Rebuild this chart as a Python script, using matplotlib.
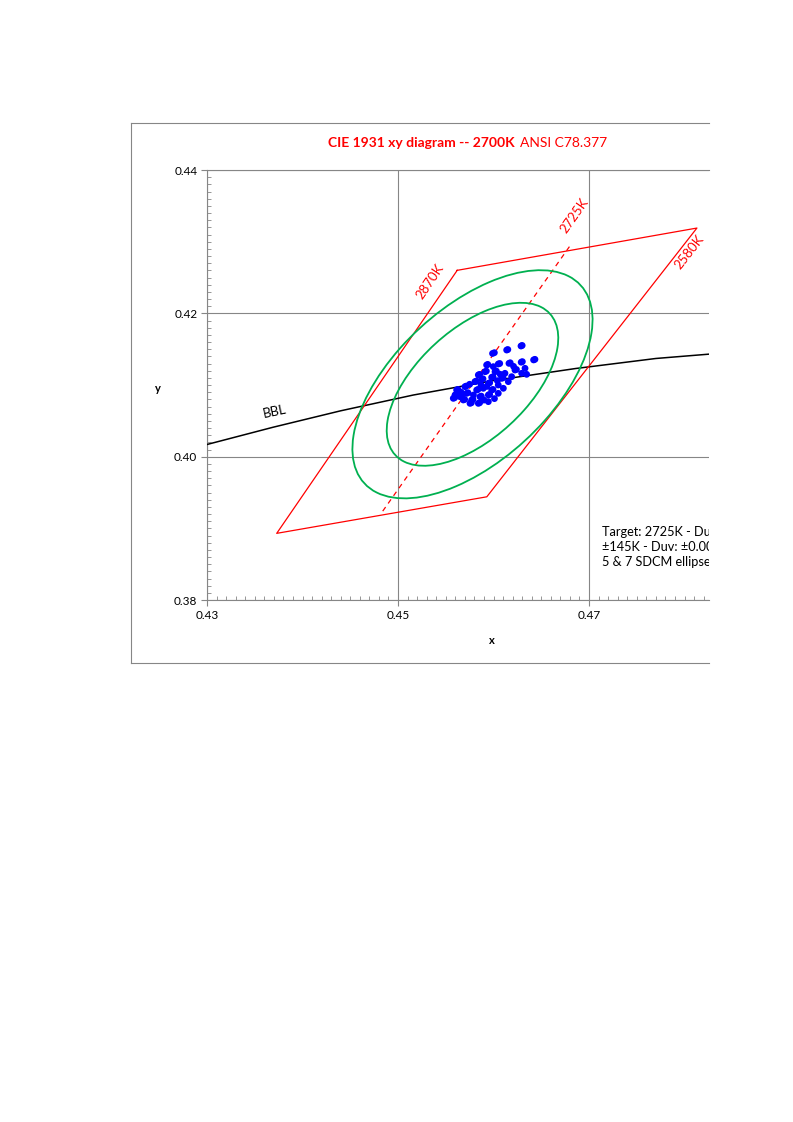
import matplotlib.pyplot as plt
from matplotlib.patches import Ellipse
from matplotlib.lines import Line2D
from matplotlib.ticker import MultipleLocator, FixedLocator

plt.rcParams['font.family'] = ['Lato', 'DejaVu Sans']

# ANSI C78.377 quadrangle for 2700K (corners, closed)
quad_x = [0.4562, 0.4813, 0.4593, 0.4373, 0.4562]
quad_y = [0.4260, 0.4319, 0.3944, 0.3893, 0.4260]

# 2725K center line
cct_x = [0.4484, 0.4680]
cct_y = [0.3924, 0.4294]

# black body locus (Planckian), 3300K .. 2400K
bbl_x = [0.4172, 0.4234, 0.4300, 0.4369, 0.4440, 0.4516, 0.4599, 0.4686, 0.4770, 0.4862]
bbl_y = [0.3966, 0.3990, 0.4017, 0.4041, 0.4064, 0.4086, 0.4106, 0.4123, 0.4137, 0.4147]

# SDCM ellipses: center, semi axes for 1 step, angle
ell_center = (0.4578, 0.4101)
ell_a = 0.00259
ell_b = 0.00130
ell_angle = 56.4
ell_steps = [5, 7]

# measured points
meas_x = [0.46288, 0.46300, 0.46138, 0.46150, 0.46009, 0.45990, 0.46434, 0.46420,
          0.46302, 0.46290, 0.46162, 0.46175, 0.46050, 0.46065, 0.45928, 0.45940,
          0.45998, 0.46330, 0.46225, 0.46240, 0.46120, 0.46016, 0.46030, 0.45911,
          0.45925, 0.45841, 0.45855, 0.46190, 0.46085, 0.46100, 0.45981, 0.45995,
          0.45876, 0.45890, 0.45806, 0.45820, 0.45946, 0.45960, 0.46050, 0.46155,
          0.45701, 0.45715, 0.45614, 0.45628, 0.45597, 0.45649, 0.45663, 0.45719,
          0.45733, 0.45824, 0.45838, 0.45893, 0.45981, 0.45995, 0.46103, 0.45684,
          0.45698, 0.45771, 0.45785, 0.45858, 0.45872, 0.45946, 0.45960, 0.46050,
          0.45754, 0.45768, 0.45841, 0.45855, 0.45946, 0.45579, 0.45593, 0.46295,
          0.46347, 0.45750, 0.45870, 0.45930, 0.46040, 0.45660, 0.45790, 0.46010,
          0.46070, 0.46210, 0.45900, 0.45620]
meas_y = [0.41544, 0.41552, 0.41488, 0.41495, 0.41451, 0.41440, 0.41358, 0.41350,
          0.41326, 0.41318, 0.41302, 0.41310, 0.41293, 0.41300, 0.41279, 0.41287,
          0.41256, 0.41233, 0.41209, 0.41217, 0.41163, 0.41186, 0.41194, 0.41186,
          0.41194, 0.41140, 0.41148, 0.41116, 0.41093, 0.41101, 0.41107, 0.41115,
          0.41079, 0.41087, 0.41047, 0.41055, 0.41023, 0.41031, 0.41000, 0.41047,
          0.40977, 0.40985, 0.40930, 0.40938, 0.40861, 0.40837, 0.40845, 0.40884,
          0.40892, 0.40930, 0.40938, 0.40954, 0.40930, 0.40938, 0.40954, 0.40791,
          0.40799, 0.40791, 0.40799, 0.40837, 0.40845, 0.40861, 0.40869, 0.40884,
          0.40744, 0.40752, 0.40744, 0.40752, 0.40768, 0.40814, 0.40822, 0.41163,
          0.41149, 0.41010, 0.41000, 0.40980, 0.41060, 0.40900, 0.40860, 0.40810,
          0.41150, 0.41260, 0.40790, 0.40880]

# labels on the quadrangle edges: text, x, y, rotation
cct_labels = [('2870K', 0.45335, 0.42451, 56),
              ('2725K', 0.46848, 0.43358, 55),
              ('2580K', 0.48047, 0.42856, 52)]

info_lines = ['Target: 2725K - Duv: 0.000',
              '\u00b1145K - Duv: \u00b10.006',
              '5 & 7 SDCM ellipses']

x_ticks = [0.43, 0.45, 0.47]
y_ticks = [0.38, 0.40, 0.42, 0.44]

W, H = 793, 1122
fig = plt.figure(figsize=(W / 100, H / 100), dpi=100)

# axes placed by pixel position of the plot area
ax = fig.add_axes([207 / W, 1 - 600 / H, 502 / W, 430 / H])

grey = '#868686'
red = '#ff0000'
green = '#00b050'

# outer chart frame (cut at right like the page)
for xs, ys in [([131, 709], [123, 123]), ([131, 131], [123, 663]), ([131, 709], [663, 663])]:
    fig.add_artist(Line2D([x / W for x in xs], [1 - y / H for y in ys],
                          color=grey, lw=0.8, transform=fig.transFigure))

ax.plot(bbl_x, bbl_y, color='black', lw=1.1, zorder=3)
ax.plot(quad_x, quad_y, color=red, lw=0.9, zorder=3)
ax.plot(cct_x, cct_y, color=red, lw=0.9, ls=(0, (4, 3.5)), zorder=3)

for n in ell_steps:
    e = Ellipse(ell_center, 2 * n * ell_a, 2 * n * ell_b, angle=ell_angle,
                fill=False, edgecolor=green, lw=1.3, zorder=3)
    ax.add_patch(e)

ax.scatter(meas_x, meas_y, s=24, color='#0000ff', edgecolors='none', zorder=4)

for txt, x, y, rot in cct_labels:
    ax.text(x, y, txt, color=red, fontsize=9.5, rotation=rot,
            rotation_mode='anchor', ha='center', va='center', clip_on=True)

ax.text(0.43707, 0.40623, 'BBL', fontsize=9.5, rotation=12, ha='center', va='center')

# info text, clipped by the page edge
for i, line in enumerate(info_lines):
    t = ax.text(602 / W, 1 - (532 + 15 * i) / H, line, fontsize=9.2,
                transform=fig.transFigure, ha='left', va='center')
    t.set_clip_path(ax.patch)
    t.set_clip_on(True)

ax.set_xlim(0.43, 0.43 + 502 / 9550)
ax.set_ylim(0.38, 0.44)
ax.xaxis.set_major_locator(FixedLocator(x_ticks))
ax.yaxis.set_major_locator(FixedLocator(y_ticks))
ax.xaxis.set_minor_locator(MultipleLocator(0.001))
ax.yaxis.set_minor_locator(MultipleLocator(0.001))
ax.xaxis.set_major_formatter(lambda v, p: f'{v:.2f}')
ax.yaxis.set_major_formatter(lambda v, p: f'{v:.2f}')
ax.tick_params(which='major', direction='out', length=4, color=grey, width=0.8,
               labelsize=8.5, pad=3)
ax.tick_params(which='minor', direction='in', length=3, color=grey, width=0.6)
ax.grid(True, which='major', color=grey, lw=0.8)
ax.set_axisbelow(True)
for s in ['left', 'bottom', 'top']:
    ax.spines[s].set_color(grey)
    ax.spines[s].set_linewidth(0.8)
ax.spines['right'].set_visible(False)

fig.text(492 / W, 1 - 640 / H, 'x', fontsize=8, fontweight='bold', ha='center', va='center')
fig.text(158 / W, 1 - 389 / H, 'y', fontsize=8, fontweight='bold', ha='center', va='center')

# two-part title
fig.text(515 / W, 1 - 143 / H, 'CIE 1931 xy diagram -- 2700K', color=red, fontsize=10,
         fontweight='bold', ha='right', va='center')
fig.text(520 / W, 1 - 143 / H, 'ANSI C78.377', color=red, fontsize=10,
         ha='left', va='center')

fig.savefig('out.png', dpi=100)
